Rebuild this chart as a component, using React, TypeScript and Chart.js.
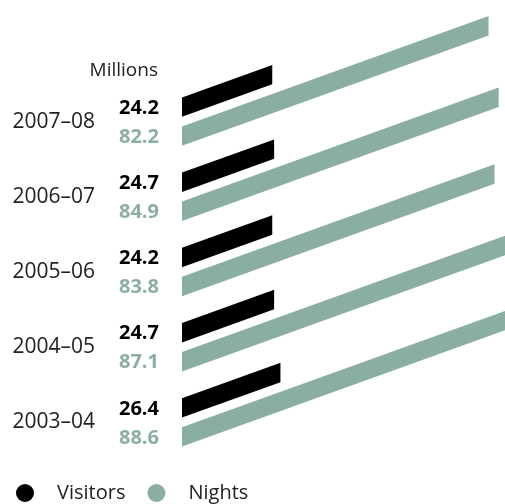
import React, { useEffect, useRef } from "react";
import { Chart, registerables } from "chart.js";

Chart.register(...registerables);

const periods = ["2007–08", "2006–07", "2005–06", "2004–05", "2003–04"];
const visitors = [24.2, 24.7, 24.2, 24.7, 26.4];
const nights = [82.2, 84.9, 83.8, 87.1, 88.6];
const unitLabel = "Millions";
const seriesNames = ["Visitors", "Nights"];

const BLACK = "#000000";
const GREEN = "#8aafa1";
const TEXT = "#222222";
const FONT = "'Open Sans', 'Noto Sans', sans-serif";
const SLOPE = 0.36;

const skewPlugin = {
  id: "skewBars",
  beforeDatasetDraw(chart: any, args: any) {
    const ctx = chart.ctx;
    const ds = chart.data.datasets[args.index];
    const meta = args.meta;
    ctx.save();
    meta.data.forEach((bar: any, i: number) => {
      const { x, y, base, height } = bar.getProps(["x", "y", "base", "height"], true);
      const h = height / 2;
      const rise = (x - base) * SLOPE;
      ctx.fillStyle = ds.backgroundColor;
      ctx.beginPath();
      ctx.moveTo(base, y - h);
      ctx.lineTo(x, y - h - rise);
      ctx.lineTo(x, y + h - rise);
      ctx.lineTo(base, y + h);
      ctx.closePath();
      ctx.fill();
      // value label
      ctx.font = `bold 20px ${FONT}`;
      ctx.textAlign = "right";
      ctx.textBaseline = "middle";
      ctx.fillText(String(ds.data[i].toFixed(1)), base - 23, y + 1);
    });
    ctx.restore();
    return false;
  },
  afterDraw(chart: any) {
    const ctx = chart.ctx;
    const area = chart.chartArea;
    ctx.save();
    ctx.fillStyle = TEXT;
    ctx.font = `19px ${FONT}`;
    ctx.textAlign = "right";
    ctx.textBaseline = "middle";
    ctx.fillText(unitLabel, area.left - 24, 71);

    // legend
    const cy = 493;
    const r = 9;
    let cx = 25;
    ctx.font = `20px ${FONT}`;
    ctx.textAlign = "left";
    chart.data.datasets.forEach((ds: any) => {
      ctx.fillStyle = ds.backgroundColor;
      ctx.beginPath();
      ctx.arc(cx, cy, r, 0, Math.PI * 2);
      ctx.fill();
      ctx.fillStyle = TEXT;
      const tx = cx + 32;
      ctx.fillText(ds.label, tx, cy);
      const w = ctx.measureText(ds.label).width;
      cx = tx + w + 31;
    });
    ctx.restore();
  },
};

export default function App() {
  const ref = useRef<HTMLCanvasElement | null>(null);
  useEffect(() => {
    if (!ref.current) return;
    const chart = new Chart(ref.current, {
      type: "bar",
      data: {
        labels: periods,
        datasets: [
          { label: seriesNames[0], data: visitors, backgroundColor: BLACK },
          { label: seriesNames[1], data: nights, backgroundColor: GREEN },
        ],
      },
      options: {
        indexAxis: "y",
        animation: false,
        responsive: false,
        events: [],
        categoryPercentage: 0.771,
        barPercentage: 0.67,
        layout: { padding: { top: 84, bottom: 44, left: 0, right: 0 } },
        plugins: {
          legend: { display: false },
          tooltip: { enabled: false },
        },
        scales: {
          x: { display: false, min: 0, max: 86.6 },
          y: {
            grid: { display: false, drawTicks: false },
            border: { display: false },
            afterFit: (scale: any) => {
              scale.width = 182;
              scale.paddingTop = 0;
              scale.paddingBottom = 0;
              scale.paddingLeft = 0;
              scale.paddingRight = 0;
            },
            ticks: {
              color: TEXT,
              padding: 87,
              font: { family: FONT, size: 21 },
            },
          },
        },
      },
      plugins: [skewPlugin],
    } as any);
    return () => chart.destroy();
  }, []);
  return (
    <div style={{ position: "fixed", left: 0, top: 0, width: 505, height: 504, background: "#fff" }}>
      <canvas ref={ref} width={505} height={504} style={{ display: "block" }} />
    </div>
  );
}
